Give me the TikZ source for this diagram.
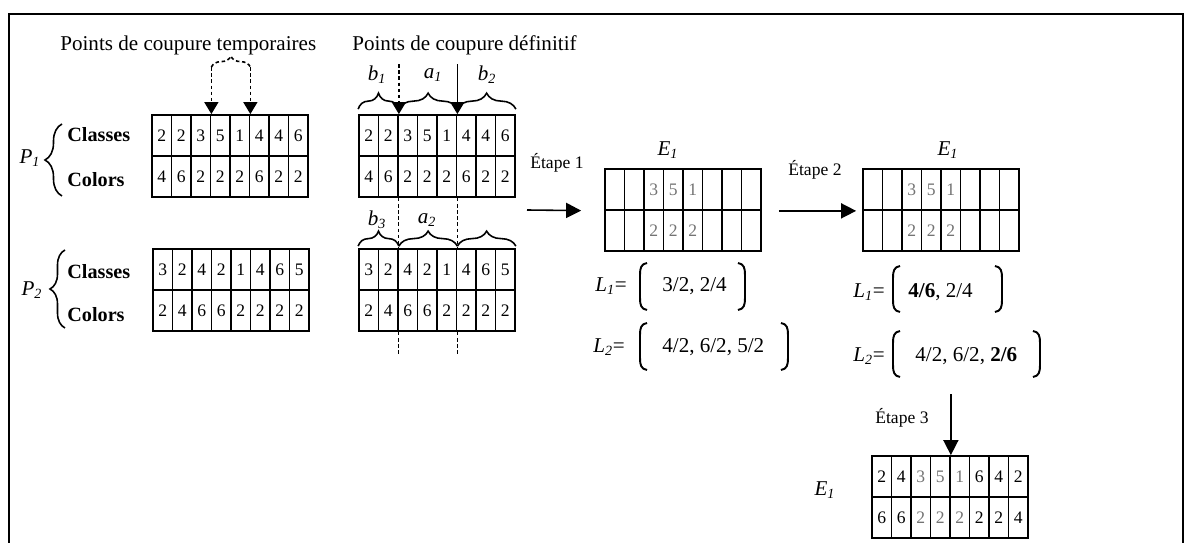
\documentclass[tikz,border=0pt]{standalone}
\usepackage{fontspec}
\setmainfont{Liberation Serif}
\usetikzlibrary{arrows.meta, positioning, calc, decorations.pathreplacing}
\tikzset{
  cell/.style={draw, line width=1pt, minimum width=0.39cm, minimum height=0.82cm, inner sep=0pt, font=\fontsize{10}{12}\selectfont},
  arr/.style={-{Triangle[length=2.4mm, width=2.8mm]}, line width=0.8pt},
  bigarr/.style={-{Triangle[length=3mm, width=3mm]}, line width=0.9pt},
  cut/.style={dash pattern=on 2pt off 1.5pt},
  brc/.style={decorate, decoration={brace, amplitude=#1}, line width=0.9pt},
  lbl/.style={inner sep=0pt, font=\fontsize{12}{14}\selectfont},
  gene/.style={inner sep=0pt, anchor=west, font=\fontsize{11.5}{13}\selectfont\bfseries},
  etape/.style={inner sep=0pt, anchor=west, font=\fontsize{10}{12}\selectfont},
}
\newcommand{\pale}[1]{\textcolor{black!55}{#1}}
% one individual on two rows: name, left, top, classes, colors
\newcommand{\chromo}[5]{%
  \foreach \v [count=\i] in {#4} \node[cell] (#1u\i) at ({#2+(\i-0.5)*19.5},{#3+20.5}) {\v};
  \foreach \v [count=\i] in {#5} \node[cell] (#1l\i) at ({#2+(\i-0.5)*19.5},{#3+61.5}) {\v};
}
% big round brackets: x, top, bottom
\newcommand{\lpar}[3]{\draw[line width=1.1pt] ({#1+7},#2) .. controls ({#1+1},{#2+1}) and (#1,{#2+5}) .. (#1,{#2+12}) -- (#1,{#3-12}) .. controls (#1,{#3-5}) and ({#1+1},{#3-1}) .. ({#1+7},#3);}
\newcommand{\rpar}[3]{\draw[line width=1.1pt] ({#1-7},#2) .. controls ({#1-1},{#2+1}) and (#1,{#2+5}) .. (#1,{#2+12}) -- (#1,{#3-12}) .. controls (#1,{#3-5}) and ({#1-1},{#3-1}) .. ({#1-7},#3);}

\begin{document}
\begin{tikzpicture}[x=0.02cm, y=-0.02cm]
  \useasboundingbox (0,0) rectangle (1184,543);
  \draw[line width=1.1pt] (9,543) -- (9,14) -- (1183,14) -- (1183,543);

  % parents
  \chromo{p1}{152}{115}{2,2,3,5,1,4,4,6}{4,6,2,2,2,6,2,2}
  \chromo{p2}{153}{249}{3,2,4,2,1,4,6,5}{2,4,6,6,2,2,2,2}
  \node[lbl] (np1) at (30,158) {\itshape P\textsubscript{1}};
  \node[lbl] (np2) at (32,290) {\itshape P\textsubscript{2}};
  \node[gene] (cl1) at (67,135) {Classes};
  \node[gene] (co1) at (67,180) {Colors};
  \node[gene] (cl2) at (67,272) {Classes};
  \node[gene] (co2) at (67,315) {Colors};
  \draw[brc=0.34cm] (62,196) -- (62,124);
  \draw[brc=0.3cm] (65,328) -- (65,250);

  % temporary cut points
  \node[lbl, anchor=west] (ttemp) at (60,45) {Points de coupure temporaires};
  \coordinate (t1) at ($(p1u3.north east)+(0,-47)$);
  \coordinate (t2) at ($(p1u5.north east)+(0,-47)$);
  \draw[arr, cut] (t1) -- (p1u3.north east);
  \draw[arr, cut] (t2) -- (p1u5.north east);
  \draw[brc=0.22cm, cut] (t1) -- (t2);

  % definitive cut points
  \chromo{d1}{359}{115}{2,2,3,5,1,4,4,6}{4,6,2,2,2,6,2,2}
  \chromo{d2}{359}{249}{3,2,4,2,1,4,6,5}{2,4,6,6,2,2,2,2}
  \node[lbl, anchor=west] (tdef) at (352,45) {Points de coupure définitif};
  \coordinate (k1) at ($(d1u2.north east)+(0,-50)$);
  \coordinate (k2) at ($(d1u5.north east)+(0,-50)$);
  \draw[arr, cut] (k1) -- (d1u2.north east);
  \draw[arr] (k2) -- (d1u5.north east);
  \draw[brc=0.32cm] ($(d1u1.north west)+(0,-5)$) -- ($(d1u2.north east)+(0,-5)$);
  \draw[brc=0.32cm] ($(d1u2.north east)+(0,-5)$) -- ($(d1u5.north east)+(0,-5)$);
  \draw[brc=0.32cm] ($(d1u5.north east)+(0,-5)$) -- ($(d1u8.north east)+(0,-5)$);
  \node[lbl] (nb1) at (377,75) {\itshape b\textsubscript{1}};
  \node[lbl] (na1) at (433,75) {\itshape a\textsubscript{1}};
  \node[lbl] (nb2) at (487,75) {\itshape b\textsubscript{2}};
  \draw[cut, line width=0.6pt] (d1l2.south east) -- (d2u2.north east);
  \draw[cut, line width=0.6pt] (d1l5.south east) -- (d2u5.north east);
  \coordinate (g1) at ($(d2l2.south east)+(0,22)$);
  \coordinate (g2) at ($(d2l5.south east)+(0,22)$);
  \draw[cut, line width=0.6pt] (d2l2.south east) -- (g1);
  \draw[cut, line width=0.6pt] (d2l5.south east) -- (g2);
  \draw[brc=0.3cm] ($(d2u1.north west)+(0,-2)$) -- ($(d2u2.north east)+(0,-2)$);
  \draw[brc=0.3cm] ($(d2u2.north east)+(0,-2)$) -- ($(d2u5.north east)+(0,-2)$);
  \draw[brc=0.3cm] ($(d2u5.north east)+(0,-2)$) -- ($(d2u8.north east)+(0,-2)$);
  \node[lbl] (nb3) at (377,220) {\itshape b\textsubscript{3}};
  \node[lbl] (na2) at (427,220) {\itshape a\textsubscript{2}};

  % step 1
  \chromo{ea}{605}{169}{{},{},\pale{3},\pale{5},\pale{1},{},{},{}}{{},{},\pale{2},\pale{2},\pale{2},{},{},{}}
  \node[lbl] (nea) at (668,150) {\itshape E\textsubscript{1}};
  \coordinate (s1) at (527,210);
  \node[etape] (et1) at (530,163) {Étape 1};
  \draw[bigarr, shorten >=0.46cm] (s1) -- (eau1.south west);
  \node[lbl, anchor=west] (la1) at (595,286) {\itshape L\textsubscript{1}\upshape=};
  \node[lbl, anchor=west] (va1) at (662,286) {3/2, 2/4};
  \lpar{640}{263}{310} \rpar{745}{263}{310}
  \node[lbl, anchor=west] (la2) at (593,347) {\itshape L\textsubscript{2}\upshape=};
  \node[lbl, anchor=west] (va2) at (662,347) {4/2, 6/2, 5/2};
  \lpar{640}{323}{370} \rpar{788}{323}{370}

  % step 2
  \chromo{eb}{863}{169}{{},{},\pale{3},\pale{5},\pale{1},{},{},{}}{{},{},\pale{2},\pale{2},\pale{2},{},{},{}}
  \node[lbl] (neb) at (948,150) {\itshape E\textsubscript{1}};
  \node[etape] (et2) at (788,170) {Étape 2};
  \draw[bigarr, shorten <=0.34cm, shorten >=0.12cm] (eau8.south east) -- (ebu1.south west);
  \node[lbl, anchor=west] (lb1) at (853,292) {\itshape L\textsubscript{1}\upshape=};
  \node[lbl, anchor=west] (vb1) at (908,292) {\textbf{4/6}, 2/4};
  \lpar{893}{266}{312} \rpar{1002}{266}{312}
  \node[lbl, anchor=west] (lb2) at (853,356) {\itshape L\textsubscript{2}\upshape=};
  \node[lbl, anchor=west] (vb2) at (915,356) {4/2, 6/2, \textbf{2/6}};
  \lpar{893}{331}{377} \rpar{1040}{331}{377}

  % step 3
  \chromo{ec}{872}{456}{2,4,\pale{3},\pale{5},\pale{1},6,4,2}{6,6,\pale{2},\pale{2},\pale{2},2,2,4}
  \node[lbl] (nec) at (825,490) {\itshape E\textsubscript{1}};
  \coordinate (s3) at ($(ecu4.north east)+(0,-61)$);
  \node[etape] (et3) at (875,418) {Étape 3};
  \draw[bigarr] (s3) -- (ecu4.north east);
\end{tikzpicture}
\end{document}
